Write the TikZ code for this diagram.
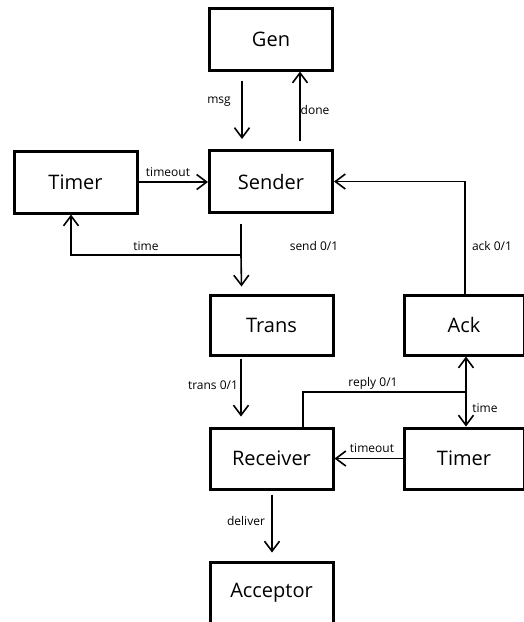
\documentclass[tikz,border=0pt]{standalone}
\usepackage{fontspec}
\setmainfont{Open Sans}
\usetikzlibrary{arrows.meta}
\begin{document}
\begin{tikzpicture}[x=1pt,y=-1pt,
  box/.style={draw, line width=3pt, minimum width=123pt, minimum height=62pt,
    inner sep=0pt, font=\fontsize{20}{24}\selectfont},
  wire/.style={line width=1.6pt},
  arr/.style={wire, -{Straight Barb[length=10pt,width=15pt,line width=1.6pt]}},
  lbl/.style={inner sep=0pt, font=\fontsize{12}{14}\selectfont}]
\useasboundingbox (0,0) rectangle (523,622);

% process boxes
\node[box] (gen)      at (271,39)    {Gen};
\node[box] (sender)   at (271,181.5) {Sender};
\node[box] (timerS)   at (75.5,182)  {Timer};
\node[box, minimum height=60pt] (trans) at (271.5,325) {Trans};
\node[box, minimum width=120pt, minimum height=60pt] (ack) at (464,325) {Ack};
\node[box, minimum height=61pt] (receiver) at (271.5,458.5) {Receiver};
\node[box, minimum width=120pt, minimum height=61pt] (timerR) at (464,458.5) {Timer};
\node[box] (acceptor) at (271.5,593) {Acceptor};

% junction points
\coordinate (split) at (241,255);
\coordinate (joint) at (466,392);

% generator <-> sender
\draw[arr, shorten <=9pt, shorten >=10pt] ([xshift=-29pt]gen.south) -- ([xshift=-29pt]sender.north);
\draw[arr, shorten <=8pt] ([xshift=29pt]sender.north) -- ([xshift=29pt]gen.south);

% sender side timer
\draw[arr] (timerS.east) -- (timerS.east -| sender.west);
\draw[wire, shorten <=10pt] ([xshift=-30pt]sender.south) -- (split);
\draw[arr] (split) -- ([xshift=-30pt, yshift=7pt]trans.north);
\draw[arr] (split) -| ([xshift=-4.5pt]timerS.south);

% acknowledgement back to sender
\draw[arr] ([xshift=1pt]ack.north) |- (sender.east);

% transmission to receiver
\draw[arr, shorten <=2pt, shorten >=10pt] ([xshift=-30.5pt]trans.south) -- ([xshift=-30.5pt]receiver.north);

% reply path and receiver timer
\draw[arr] ([xshift=31.5pt]receiver.north) |- (joint) -- (joint |- ack.south);
\draw[arr] (joint) -- (joint |- timerR.north);
\draw[arr] (timerR.west) -- (timerR.west -| receiver.east);

% delivery
\draw[arr, shorten <=4pt, shorten >=8pt] ([xshift=0.5pt]receiver.south) -- ([xshift=0.5pt]acceptor.north);

% connector labels
\node[lbl] (lmsg)     at (219,102) {msg};
\node[lbl] (ldone)    at (315,110) {done};
\node[lbl] (lto1)     at (168,172) {timeout};
\node[lbl] (ltime1)   at (146,246) {time};
\node[lbl] (lsend)    at (314,246) {send 0/1};
\node[lbl] (lack)     at (492,246) {ack 0/1};
\node[lbl] (ltrans)   at (213,385) {trans 0/1};
\node[lbl] (lreply)   at (373,383) {reply 0/1};
\node[lbl] (ltime2)   at (485,408) {time};
\node[lbl] (lto2)     at (372,448) {timeout};
\node[lbl] (ldeliver) at (246,521) {deliver};
\end{tikzpicture}
\end{document}
